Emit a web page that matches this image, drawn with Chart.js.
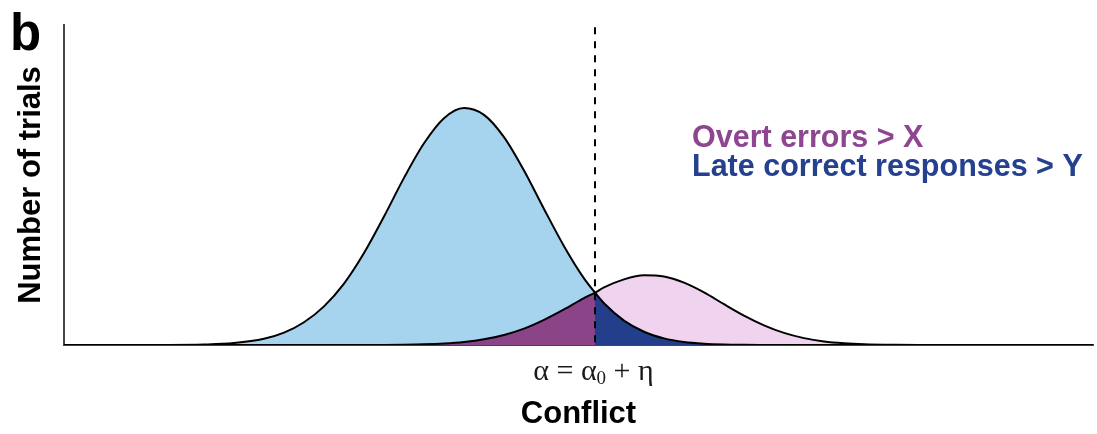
<!DOCTYPE html>
<html>
<head>
<meta charset="utf-8">
<script src="https://cdn.jsdelivr.net/npm/chart.js@4.4.1/dist/chart.umd.min.js"></script>
<style>
  html, body { margin: 0; padding: 0; background: #fff; }
  #wrap { width: 1097px; height: 434px; position: relative; }
</style>
</head>
<body>
<div id="wrap"><canvas id="c"></canvas></div>
<script>
// ---- data ----
const conflict = [0, 6, 10, 14, 17, 20, 22, 24, 26, 28, 30, 32, 34, 36, 38, 40, 42, 44, 46, 48, 50, 52, 53.1, 54, 56, 58, 60, 62, 64, 66, 68, 70, 72, 74, 76, 78, 80, 83, 86, 90, 95, 102.9];
const correctTrials = [0, 0, 0.02, 0.2, 0.8, 2.6, 5.2, 9.6, 16.3, 25.9, 38.8, 54.2, 70.5, 85.1, 95.7, 100, 97.1, 87.7, 73.6, 57.4, 41.7, 28.1, 22.1, 17.6, 10.3, 5.6, 2.8, 1.3, 0.57, 0.23, 0.09, 0.03, 0, 0, 0, 0, 0, 0, 0, 0, 0, 0];
const errorTrials = [0, 0, 0, 0, 0, 0, 0, 0, 0, 0, 0.02, 0.05, 0.12, 0.28, 0.61, 1.25, 2.38, 4.2, 6.9, 10.6, 15.0, 19.8, 22.1, 24.3, 27.7, 29.4, 28.9, 26.3, 22.2, 17.2, 12.4, 8.3, 5.1, 2.9, 1.5, 0.74, 0.33, 0.09, 0.02, 0, 0, 0];
const THRESHOLD = 53.1;
const X_MAX = 102.9;
const Y_MAX = 135;
const DASH_TOP = 134;
const thresholdLabel = ['α = α', '0', ' + η'];
const legendTexts = ['Overt errors > X', 'Late correct responses > Y'];
const panelLabel = 'b';
const xTitle = 'Conflict';
const yTitle = 'Number of trials';

// ---- styles ----
const LIGHT_BLUE = '#A6D4EE';
const LIGHT_PINK = '#F0D3EF';
const PURPLE = '#8A4487';
const DARK_BLUE = '#233F8C';
const PURPLE_TEXT = '#8E4691';
const BLUE_TEXT = '#24408E';
const AXIS = '#444444';
const SANS = '"Liberation Sans", Arial, Helvetica, sans-serif';
const SERIF = '"Liberation Serif", "Times New Roman", serif';

const toXY = (xs, ys) => xs.map((x, i) => ({x, y: ys[i]}));
const blueXY = toXY(conflict, correctTrials);
const pinkXY = toXY(conflict, errorTrials);

const curveBase = {
  pointRadius: 0,
  cubicInterpolationMode: 'monotone',
  borderWidth: 0
};

const annotate = {
  id: 'annotate',
  afterDraw(chart) {
    const ctx = chart.ctx;
    const xs = chart.scales.x;
    const ys = chart.scales.y;
    ctx.save();
    ctx.textAlign = 'left';
    ctx.textBaseline = 'alphabetic';
    ctx.fillStyle = '#000';
    ctx.font = 'bold 51px ' + SANS;
    ctx.fillText(panelLabel, 10, 50);

    ctx.font = 'bold 30.5px ' + SANS;
    ctx.fillStyle = PURPLE_TEXT;
    ctx.fillText(legendTexts[0], 692, 147);
    ctx.fillStyle = BLUE_TEXT;
    ctx.fillText(legendTexts[1], 692, 175.5);

    // threshold label under the axis
    const px = xs.getPixelForValue(THRESHOLD);
    const base = ys.getPixelForValue(0) + 34.5;
    const parts = [
      {t: thresholdLabel[0], f: '30px ' + SERIF, dy: 0},
      {t: thresholdLabel[1], f: '19px ' + SERIF, dy: 4},
      {t: thresholdLabel[2], f: '30px ' + SERIF, dy: 0}
    ];
    let total = 0;
    parts.forEach(p => { ctx.font = p.f; p.w = ctx.measureText(p.t).width; total += p.w; });
    let cx = px - total / 2 - 1.5;
    ctx.fillStyle = '#1a1a1a';
    parts.forEach(p => { ctx.font = p.f; ctx.fillText(p.t, cx, base + p.dy); cx += p.w; });
    ctx.restore();
  }
};

new Chart(document.getElementById('c'), {
  type: 'line',
  data: {
    datasets: [
      Object.assign({}, curveBase, {
        data: blueXY, fill: 'origin', backgroundColor: LIGHT_BLUE, order: 6
      }),
      Object.assign({}, curveBase, {
        data: pinkXY, fill: 'origin', backgroundColor: LIGHT_PINK, order: 5,
        segment: { backgroundColor: c => c.p0.parsed.x < THRESHOLD ? PURPLE : LIGHT_PINK }
      }),
      Object.assign({}, curveBase, {
        data: blueXY, fill: 'origin', backgroundColor: 'rgba(0,0,0,0)', order: 4,
        segment: { backgroundColor: c => c.p0.parsed.x >= THRESHOLD ? DARK_BLUE : 'rgba(0,0,0,0)' }
      }),
      Object.assign({}, curveBase, {
        data: blueXY, fill: false, borderColor: '#000', borderWidth: 2, order: 3
      }),
      Object.assign({}, curveBase, {
        data: pinkXY, fill: false, borderColor: '#000', borderWidth: 2, order: 2
      }),
      {
        data: [{x: THRESHOLD, y: DASH_TOP}, {x: THRESHOLD, y: 0}],
        borderColor: '#000', borderWidth: 2, borderDash: [7, 7],
        pointRadius: 0, fill: false, order: 1
      }
    ]
  },
  options: {
    responsive: true,
    maintainAspectRatio: false,
    animation: false,
    events: [],
    layout: { padding: { top: 25, right: 4, left: 0, bottom: 0 } },
    plugins: { legend: { display: false }, tooltip: { enabled: false } },
    scales: {
      x: {
        type: 'linear', min: 0, max: X_MAX,
        grid: { display: false, drawTicks: false },
        ticks: { display: false },
        border: { display: true, color: AXIS, width: 2 },
        title: {
          display: true, text: xTitle, color: '#000',
          font: { family: SANS, size: 31, weight: 'bold', lineHeight: 1.2 },
          padding: { top: 0, bottom: 1 }
        },
        afterFit: s => { s.height = 89; }
      },
      y: {
        type: 'linear', min: 0, max: Y_MAX,
        grid: { display: false, drawTicks: false },
        ticks: { display: false },
        border: { display: true, color: AXIS, width: 2 },
        title: {
          display: true, text: yTitle, color: '#000',
          font: { family: SANS, size: 31, weight: 'bold', lineHeight: 1.2 },
          padding: { top: 12.5, bottom: 0 }
        },
        afterFit: s => { s.width = 64; }
      }
    }
  },
  plugins: [annotate]
});
</script>
</body>
</html>
